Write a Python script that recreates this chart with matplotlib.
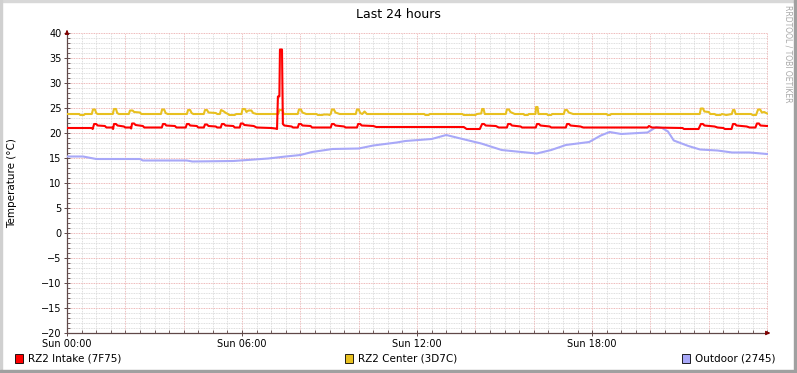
import matplotlib
matplotlib.use("Agg")
import matplotlib.pyplot as plt
from matplotlib.patches import Rectangle
from matplotlib.ticker import MultipleLocator, FixedLocator

# ---- data (hours since Sun 00:00, deg C) ----
intake_t = [0.0, 0.85, 0.88, 0.93, 1.0, 1.05, 1.3, 1.35, 1.55, 1.58, 1.61, 1.68, 1.73, 1.95, 2.0,
            2.17, 2.2, 2.23, 2.3, 2.35, 2.6, 2.65, 3.25, 3.29, 3.36, 3.4, 3.7, 3.75, 4.07, 4.11,
            4.18, 4.22, 4.45, 4.5, 4.69, 4.73, 4.8, 4.85, 5.1, 5.15, 5.27, 5.31, 5.38, 5.43, 5.7,
            5.75, 5.92, 5.96, 6.03, 6.08, 6.4, 6.5, 7.0, 7.15, 7.2, 7.23, 7.28, 7.3, 7.37, 7.4,
            7.45, 7.7, 7.75, 7.91, 7.95, 8.02, 8.07, 8.35, 8.4, 9.04, 9.08, 9.15, 9.2, 9.5, 9.55,
            9.94, 9.98, 10.05, 10.1, 10.5, 10.6, 13.6, 13.7, 14.15, 14.23, 14.3, 14.35, 14.7, 14.8,
            15.08, 15.12, 15.2, 15.25, 15.55, 15.6, 16.07, 16.11, 16.18, 16.23, 16.55, 16.6, 17.1,
            17.14, 17.21, 17.26, 17.6, 17.7, 19.9, 19.95, 20.05, 21.1, 21.15, 21.65, 21.73, 21.8,
            21.85, 22.2, 22.3, 22.5, 22.55, 22.78, 22.83, 22.9, 22.95, 23.3, 23.4, 23.6, 23.65,
            23.72, 23.77, 24.0]
intake_v = [21.0, 21.0, 20.8, 21.8, 21.8, 21.5, 21.4, 21.1, 21.1, 20.8, 21.8, 21.8, 21.5, 21.3, 21.1,
            21.1, 20.9, 21.9, 21.9, 21.6, 21.4, 21.1, 21.1, 21.8, 21.8, 21.5, 21.4, 21.1, 21.1, 21.8,
            21.8, 21.5, 21.4, 21.1, 21.1, 21.7, 21.7, 21.4, 21.3, 21.1, 21.1, 21.8, 21.8, 21.5, 21.4,
            21.1, 21.1, 21.9, 21.9, 21.6, 21.4, 21.1, 21.0, 20.9, 20.8, 27.3, 27.3, 36.7, 36.7, 21.8,
            21.5, 21.3, 21.1, 21.1, 21.8, 21.8, 21.5, 21.4, 21.1, 21.1, 21.8, 21.8, 21.5, 21.3, 21.1,
            21.1, 21.8, 21.8, 21.5, 21.4, 21.2, 21.2, 20.8, 20.8, 21.8, 21.8, 21.5, 21.4, 21.1,
            21.1, 21.8, 21.8, 21.5, 21.3, 21.1, 21.1, 21.8, 21.8, 21.5, 21.3, 21.1, 21.1,
            21.8, 21.8, 21.5, 21.3, 21.1, 21.1, 21.4, 21.1, 21.0, 20.8, 20.8, 21.8, 21.8,
            21.5, 21.3, 21.1, 21.0, 20.8, 20.8, 21.8, 21.8, 21.5, 21.3, 21.1, 21.1, 21.9,
            21.9, 21.5, 21.4]

center_t = [0.0, 0.42, 0.45, 0.58, 0.61, 0.85, 0.89, 0.96, 1.0, 1.05, 1.57, 1.61, 1.68, 1.72, 1.78,
            2.12, 2.16, 2.25, 2.3, 2.5, 2.55, 3.22, 3.26, 3.33, 3.38, 3.45, 4.11, 4.15, 4.22, 4.27,
            4.33, 4.69, 4.73, 4.8, 4.85, 5.1, 5.15, 5.24, 5.28, 5.35, 5.45, 5.52, 5.56, 5.75, 5.8,
            5.98, 6.02, 6.1, 6.15, 6.22, 6.32, 6.38, 6.5, 7.24, 7.28, 7.38, 7.43, 7.91, 7.95, 8.02,
            8.07, 8.2, 8.55, 8.6, 8.75, 8.8, 8.95, 9.0, 9.04, 9.08, 9.15, 9.2, 9.35, 9.9, 9.94,
            10.0, 10.05, 10.12, 10.2, 10.28, 12.25, 12.28, 12.4, 12.43, 13.55, 13.6, 14.0, 14.05,
            14.2, 14.23, 14.28, 14.32, 15.04, 15.08, 15.15, 15.2, 15.35, 15.65, 15.68, 15.8, 15.83,
            16.06, 16.08, 16.13, 16.16, 16.45, 16.48, 16.6, 16.63, 17.03, 17.07, 17.14, 17.2,
            17.35, 18.5, 18.53, 18.62, 18.65, 21.69, 21.73, 21.8, 21.85, 22.0, 22.05, 22.2, 22.25,
            22.4, 22.45, 22.6, 22.7, 22.79, 22.83, 22.88, 22.92, 23.45, 23.5, 23.62, 23.69, 23.76,
            23.82, 23.9, 24.0]
center_v = [23.8, 23.8, 23.6, 23.6, 23.8, 23.8, 24.7, 24.7, 24.0, 23.8, 23.8, 24.8, 24.8, 24.0, 23.8,
            23.8, 24.5, 24.5, 24.2, 24.1, 23.8, 23.8, 24.7, 24.7, 24.0, 23.8, 23.8, 24.6, 24.6, 24.0,
            23.8, 23.8, 24.6, 24.6, 24.1, 24.0, 23.8, 23.8, 24.6, 24.4, 24.0, 23.8, 23.6, 23.6, 23.8,
            23.8, 24.8, 24.8, 24.2, 24.5, 24.5, 24.0, 23.8, 23.8, 24.6, 24.6, 23.8, 23.8, 24.7, 24.7,
            24.1, 23.8, 23.8, 23.6, 23.6, 23.7, 23.7, 23.6, 23.8, 24.7, 24.7, 24.1, 23.8, 23.8, 24.7,
            24.7, 24.0, 23.8, 24.3, 23.8, 23.8, 23.6, 23.6, 23.8, 23.8, 23.6, 23.6, 23.8,
            23.9, 24.8, 24.8, 23.8, 23.8, 24.7, 24.7, 24.2, 23.8, 23.8, 23.6, 23.6, 23.8,
            23.8, 25.2, 25.2, 23.8, 23.8, 23.6, 23.6, 23.8, 23.8, 24.6, 24.6, 24.1,
            23.8, 23.8, 23.6, 23.6, 23.8, 23.8, 24.9, 24.9, 24.3, 24.2, 23.8, 23.8, 23.6,
            23.6, 23.8, 23.6, 23.7, 23.8, 24.6, 24.6, 23.8, 23.8, 23.6, 23.6, 24.7, 24.7,
            24.1, 24.2, 23.9]

outdoor_t = [0.0, 0.55, 1.0, 2.5, 2.6, 4.1, 4.3, 5.7, 6.9, 7.5, 8.0, 8.4, 9.1, 10.0, 10.5, 11.3,
             11.6, 12.5, 13.0, 13.7, 14.2, 14.9, 15.4, 16.1, 16.6, 17.1, 17.9, 18.3, 18.6, 19.0,
             19.6, 19.9, 20.2, 20.4, 20.6, 20.8, 21.3, 21.7, 22.3, 22.8, 23.4, 24.0]
outdoor_v = [15.3, 15.3, 14.8, 14.8, 14.5, 14.5, 14.3, 14.4, 14.9, 15.3, 15.6, 16.2, 16.8, 16.9, 17.5, 18.1,
             18.4, 18.8, 19.6, 18.6, 17.9, 16.6, 16.3, 15.9, 16.6, 17.6, 18.2, 19.5, 20.2, 19.8,
             20.0, 20.1, 21.2, 21.0, 20.3, 18.5, 17.4, 16.7, 16.5, 16.1, 16.1, 15.8]

series_names = ["RZ2 Intake (7F75)", "RZ2 Center (3D7C)", "Outdoor (2745)"]
series_colors = ["#ff0000", "#e8c020", "#a8a8f8"]
xtick_hours = [0, 6, 12, 18]
xtick_labels = ["Sun 00:00", "Sun 06:00", "Sun 12:00", "Sun 18:00"]

W, H = 797, 373
fig = plt.figure(figsize=(W / 100, H / 100), dpi=100)
fig.patch.set_facecolor("white")

# rrdtool style frame
fig.patches.append(Rectangle((0, 1 - 2 / H), 1, 2 / H, transform=fig.transFigure, color="#d8d8d8", zorder=0))
fig.patches.append(Rectangle((0, 0), 2 / W, 1, transform=fig.transFigure, color="#d0d0d0", zorder=0))
fig.patches.append(Rectangle((0, 0), 1, 3 / H, transform=fig.transFigure, color="#a0a0a0", zorder=0))
fig.patches.append(Rectangle((1 - 3 / W, 0), 3 / W, 1, transform=fig.transFigure, color="#a0a0a0", zorder=0))

x0, x1, y0, y1 = 67, 768, 333, 33
ax = fig.add_axes([x0 / W, 1 - y0 / H, (x1 - x0) / W, (y0 - y1) / H])
ax.set_xlim(0, 24.03)
ax.set_ylim(-20, 40)
ax.set_facecolor("white")

ax.xaxis.set_major_locator(FixedLocator(xtick_hours))
ax.xaxis.set_minor_locator(MultipleLocator(0.5))
ax.set_xticklabels(xtick_labels)
ax.yaxis.set_major_locator(MultipleLocator(5))
ax.yaxis.set_minor_locator(MultipleLocator(1))

# grid: gray minor, red major every 2 h / 5 deg
for h in [v * 0.5 for v in range(1, 49)]:
    if h % 2 == 0:
        ax.axvline(h, color="#e8a8a8", lw=0.6, ls=(0, (1, 1)), zorder=1)
    else:
        ax.axvline(h, color="#d4d4d4", lw=0.6, ls=(0, (1, 1)), zorder=0.5)
for v in range(-19, 41):
    if v % 5 == 0:
        ax.axhline(v, color="#e8a0a0", lw=0.6, ls=(0, (1, 1)), zorder=1)
    else:
        ax.axhline(v, color="#d4d4d4", lw=0.6, ls=(0, (1, 1)), zorder=0.5)

ax.plot(outdoor_t, outdoor_v, color=series_colors[2], lw=1.5, zorder=3)
ax.plot(center_t, center_v, color=series_colors[1], lw=1.5, zorder=4)
ax.plot(intake_t, intake_v, color=series_colors[0], lw=1.5, zorder=5)

for pos in ["top", "right"]:
    ax.spines[pos].set_visible(False)
for pos in ["left", "bottom"]:
    ax.spines[pos].set_color("#604848")
    ax.spines[pos].set_linewidth(0.9)
ax.tick_params(which="major", direction="inout", length=4, width=0.7, color="#604848",
               labelsize=7, pad=2)
ax.tick_params(which="minor", direction="in", length=2, width=0.6, color="#604848")
ax.tick_params(axis="x", which="major", pad=2.5)

# arrows
ax.annotate("", xy=(773 / W, 1 - 333 / H), xytext=(765 / W, 1 - 333 / H), xycoords="figure fraction",
            arrowprops=dict(arrowstyle="-|>", color="#800000", lw=0.8, mutation_scale=6))
ax.annotate("", xy=(67 / W, 1 - 27 / H), xytext=(67 / W, 1 - 35 / H), xycoords="figure fraction",
            arrowprops=dict(arrowstyle="-|>", color="#800000", lw=0.8, mutation_scale=6))

fig.text(398 / W, 1 - 14 / H, "Last 24 hours", ha="center", va="center", fontsize=9)
fig.text(12 / W, 1 - 183 / H, "Temperature (°C)", ha="center", va="center", rotation=90, fontsize=7.5)
fig.text(788 / W, 1 - 5 / H, "RRDTOOL / TOBI OETIKER", ha="center", va="top", rotation=270,
         fontsize=5.5, color="#a8a8a8")

legend_x = [15, 345, 682]
for lx, name, col in zip(legend_x, series_names, series_colors):
    fig.patches.append(Rectangle((lx / W, 1 - 363 / H), 8 / W, 9 / H, transform=fig.transFigure,
                                 facecolor=col, edgecolor="black", lw=0.6))
    fig.text((lx + 13) / W, 1 - 358.5 / H, name, ha="left", va="center", fontsize=7.5)

fig.savefig("out.png", dpi=100)
